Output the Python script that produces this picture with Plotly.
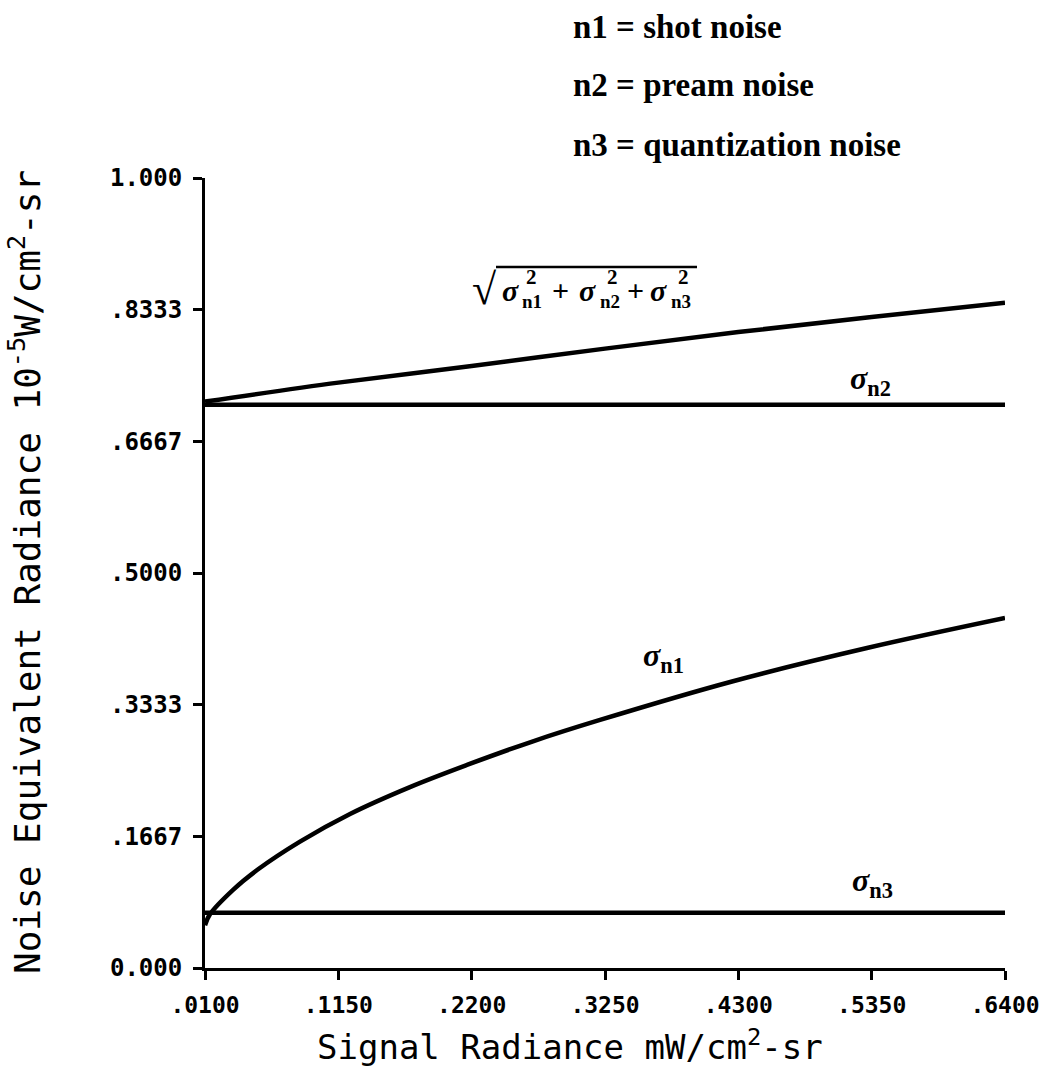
import plotly.graph_objects as go

# ---- data ----
x_n1 = [0.010, 0.0139, 0.0321, 0.0510, 0.0848, 0.1242, 0.1714, 0.2163,
        0.2683, 0.3211, 0.4258, 0.5313, 0.640]
y_n1 = [0.054, 0.068, 0.099, 0.124, 0.160, 0.195, 0.229, 0.257,
        0.287, 0.314, 0.363, 0.405, 0.443]

x_flat = [0.010, 0.640]
y_n2 = [0.713, 0.713]
y_n3 = [0.070, 0.070]

x_tot = [0.010, 0.115, 0.220, 0.325, 0.430, 0.535, 0.640]
y_tot = [0.717, 0.741, 0.762, 0.784, 0.805, 0.824, 0.842]

x_tickvals = [0.010, 0.115, 0.220, 0.325, 0.430, 0.535, 0.640]
x_ticktext = [".0100", ".1150", ".2200", ".3250", ".4300", ".5350", ".6400"]
y_tickvals = [0.0, 1/6, 2/6, 3/6, 4/6, 5/6, 1.0]
y_ticktext = ["0.000", ".1667", ".3333", ".5000", ".6667", ".8333", "1.000"]

legend_lines = ["n1 = shot noise", "n2 = pream noise", "n3 = quantization noise"]

LINE = dict(color="black", width=4.5)

fig = go.Figure()
for xs, ys in [(x_n1, y_n1), (x_flat, y_n2), (x_flat, y_n3), (x_tot, y_tot)]:
    fig.add_trace(go.Scatter(x=xs, y=ys, mode="lines",
                             line=dict(LINE, shape="spline", smoothing=1.0),
                             showlegend=False, hoverinfo="skip"))

mono = "DejaVu Sans Mono"
serif = "Liberation Serif"

L, T, PW, PH = 205, 178, 800, 790


def px(x, y):
    """pixel position -> paper coordinates"""
    return (x - L) / PW, (T + PH - y) / PH


fig.update_layout(
    width=1039, height=1081,
    margin=dict(l=205, r=34, t=178, b=113, autoexpand=False),
    paper_bgcolor="white", plot_bgcolor="white",
    showlegend=False,
)
fig.update_xaxes(
    range=[0.010, 0.640], showgrid=False, zeroline=False, automargin=False,
    showline=True, linecolor="black", linewidth=3,
    ticks="outside", ticklen=9, tickwidth=3, tickcolor="black",
    tickvals=x_tickvals, ticktext=x_ticktext,
    tickfont=dict(family=mono, size=23, color="black", weight="bold"),
    ticklabelstandoff=5, ticklabeloverflow="allow",
)
fig.update_yaxes(
    range=[0.0, 1.0], showgrid=False, zeroline=False, automargin=False,
    showline=True, linecolor="black", linewidth=3,
    ticks="outside", ticklen=9, tickwidth=3, tickcolor="black",
    tickvals=y_tickvals, ticktext=y_ticktext,
    tickfont=dict(family=mono, size=24, color="black", weight="bold"),
    ticklabelstandoff=6, ticklabeloverflow="allow",
)

# axis titles
ax, ay = px(570, 1045)
fig.add_annotation(xref="paper", yref="paper", x=ax, y=ay,
                   text="Signal Radiance mW/cm<sup>2</sup>-sr", showarrow=False,
                   xanchor="center", yanchor="middle",
                   font=dict(family=mono, size=34, color="black"))
ax, ay = px(25, 572)
fig.add_annotation(xref="paper", yref="paper", x=ax, y=ay,
                   text="Noise Equivalent Radiance 10<sup>-5</sup>W/cm<sup>2</sup>-sr",
                   textangle=-90, showarrow=False,
                   xanchor="center", yanchor="middle",
                   font=dict(family=mono, size=36, color="black"))

# legend text at top
for t, yy in zip(legend_lines, [27, 85, 145]):
    ax, ay = px(571, yy)
    fig.add_annotation(xref="paper", yref="paper", x=ax, y=ay,
                       text="<b>" + t + "</b>", showarrow=False,
                       xanchor="left", yanchor="middle",
                       font=dict(family=serif, size=33, color="black"))

# curve labels
def sig(sub):
    return "<b><i>σ</i></b><sub><b>" + sub + "</b></sub>"

for sub, (cx, cy) in [("n1", (663, 657)), ("n2", (870, 380)), ("n3", (872, 882))]:
    ax, ay = px(cx, cy)
    fig.add_annotation(xref="paper", yref="paper", x=ax, y=ay, text=sig(sub),
                       showarrow=False, xanchor="center", yanchor="middle",
                       font=dict(family=serif, size=32, color="black"))

# formula sqrt(σn1² + σn2² + σn3²), built from positioned pieces
pieces = [
    ("√", 484, 289, 44),
    ("<b><i>σ</i></b>", 510, 290, 30),
    ("<b>n1</b>", 532, 301, 19),
    ("<b>2</b>", 531, 277, 21),
    ("<b>+</b>", 560, 290, 30),
    ("<b><i>σ</i></b>", 587, 290, 30),
    ("<b>n2</b>", 610, 301, 19),
    ("<b>2</b>", 612, 277, 21),
    ("<b>+</b>", 635, 290, 30),
    ("<b><i>σ</i></b>", 658, 290, 30),
    ("<b>n3</b>", 681, 301, 19),
    ("<b>2</b>", 683, 277, 21),
]
for t, cx, cy, sz in pieces:
    ax, ay = px(cx, cy)
    fig.add_annotation(xref="paper", yref="paper", x=ax, y=ay, text=t,
                       showarrow=False, xanchor="center", yanchor="middle",
                       font=dict(family=serif, size=sz, color="black"))
x0, y0 = px(496, 267)
x1, _ = px(697, 267)
fig.add_shape(type="line", xref="paper", yref="paper",
              x0=x0, x1=x1, y0=y0, y1=y0,
              line=dict(color="black", width=2.5))

fig.write_html("out.html")
